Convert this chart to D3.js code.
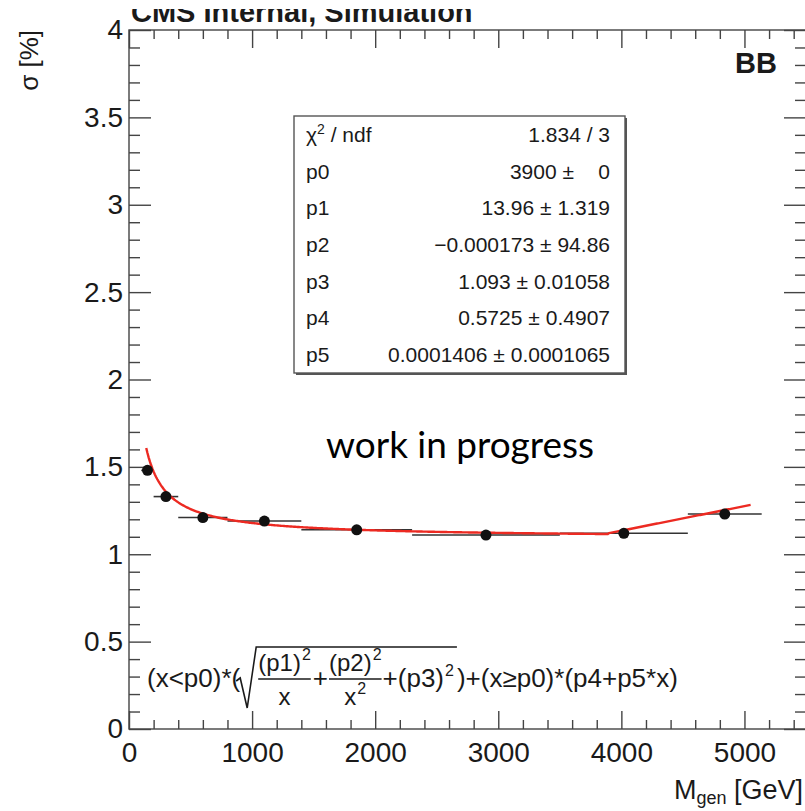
<!DOCTYPE html>
<html>
<head>
<meta charset="utf-8">
<script src="https://cdn.jsdelivr.net/npm/d3@7"></script>
<style>
  html, body { margin: 0; padding: 0; background: #fff; }
  svg { display: block; }
</style>
</head>
<body>
<svg id="chart" width="805" height="811"></svg>
<script>
// resolution per mass bin: bin centre, sigma and half bin width
const massGeV = [150, 300, 600, 1100, 1850, 2900, 4020, 4840];
const sigmaPct = [1.48, 1.33, 1.21, 1.19, 1.14, 1.11, 1.12, 1.23];
const massHalfWidth = [50, 100, 200, 300, 450, 600, 520, 300];

// fit result shown in the stats box
const paramNames = ["p0", "p1", "p2", "p3", "p4", "p5"];
const paramValues = [3900, 13.96, -0.000173, 1.093, 0.5725, 0.0001406];
const paramErrors = [0, 1.319, 94.86, 0.01058, 0.4907, 0.0001065];
const chi2 = 1.834;
const ndf = 3;
const fitRange = [140, 5050];

const xTicks = [0, 1000, 2000, 3000, 4000, 5000];
const yTicks = [0, 0.5, 1, 1.5, 2, 2.5, 3, 3.5, 4];

const FONT = "'Liberation Sans', Arial, Helvetica, sans-serif";
const INK = "#1a1a1a";
const AXIS = "#444";

const svg = d3.select("#chart").attr("font-family", FONT);

const x = d3.scaleLinear().domain([0, 5500]).range([129, 806]);
const y = d3.scaleLinear().domain([0, 4]).range([729, 30]);
const fmt = d3.format("~g");

const xMinor = d3.range(0, 5501, 200).filter((v) => v % 1000 !== 0);
const yMinor = d3.range(0, 4.001, 0.1).map((v) => +v.toFixed(1)).filter((v) => !yTicks.includes(v));

function styleAxis(g) {
  g.select(".domain").remove();
  g.selectAll(".tick line").attr("stroke", AXIS).attr("stroke-width", 1.4);
  g.selectAll(".tick text").attr("fill", INK);
  g.attr("font-family", FONT).attr("font-size", 28);
}

// ---------- frame + ticks (inward, all four sides) ----------
svg.append("rect")
  .attr("x", x(0)).attr("y", y(4))
  .attr("width", x(5500) - x(0)).attr("height", y(0) - y(4))
  .attr("fill", "none").attr("stroke", AXIS).attr("stroke-width", 1.4);

svg.append("g").attr("transform", `translate(0,${y(0)})`)
  .call(d3.axisBottom(x).tickValues(xTicks).tickFormat(fmt).tickSize(-18).tickPadding(13))
  .call(styleAxis);
svg.append("g").attr("transform", `translate(0,${y(0)})`)
  .call(d3.axisBottom(x).tickValues(xMinor).tickFormat("").tickSize(-9))
  .call(styleAxis);
svg.append("g").attr("transform", `translate(0,${y(4)})`)
  .call(d3.axisTop(x).tickValues(xTicks).tickFormat("").tickSize(-18))
  .call(styleAxis);
svg.append("g").attr("transform", `translate(0,${y(4)})`)
  .call(d3.axisTop(x).tickValues(xMinor).tickFormat("").tickSize(-9))
  .call(styleAxis);

svg.append("g").attr("transform", `translate(${x(0)},0)`)
  .call(d3.axisLeft(y).tickValues(yTicks).tickFormat(fmt).tickSize(-22).tickPadding(6))
  .call(styleAxis);
svg.append("g").attr("transform", `translate(${x(0)},0)`)
  .call(d3.axisLeft(y).tickValues(yMinor).tickFormat("").tickSize(-11))
  .call(styleAxis);
svg.append("g").attr("transform", `translate(${x(5500)},0)`)
  .call(d3.axisRight(y).tickValues(yTicks).tickFormat("").tickSize(-22))
  .call(styleAxis);
svg.append("g").attr("transform", `translate(${x(5500)},0)`)
  .call(d3.axisRight(y).tickValues(yMinor).tickFormat("").tickSize(-11))
  .call(styleAxis);

// ---------- titles ----------
svg.append("defs").append("clipPath").attr("id", "title-clip")
  .append("rect").attr("x", 0).attr("y", 9).attr("width", 805).attr("height", 40);
svg.append("text")
  .attr("clip-path", "url(#title-clip)")
  .attr("x", 131).attr("y", 22)
  .attr("font-size", 29).attr("font-weight", "bold").attr("fill", INK)
  .text("CMS Internal, Simulation");

svg.append("text")
  .attr("x", 777).attr("y", 73)
  .attr("text-anchor", "end")
  .attr("font-size", 29).attr("font-weight", "bold").attr("fill", INK)
  .text("BB");

svg.append("text")
  .attr("transform", "translate(38,30) rotate(-90)")
  .attr("text-anchor", "end")
  .attr("font-size", 26).attr("fill", INK)
  .text("σ [%]");

const xt = svg.append("text")
  .attr("x", 803).attr("y", 799)
  .attr("text-anchor", "end")
  .attr("font-size", 27).attr("fill", INK);
xt.append("tspan").text("M");
xt.append("tspan").attr("font-size", 18).attr("dy", 5).text("gen");
xt.append("tspan").attr("dy", -5).text(" [GeV]");

// ---------- data: horizontal bin errors, fit curve, markers ----------
const points = massGeV.map((m, i) => ({ m, s: sigmaPct[i], dm: massHalfWidth[i] }));

svg.append("g").selectAll("line")
  .data(points)
  .join("line")
  .attr("x1", (d) => x(d.m - d.dm))
  .attr("x2", (d) => x(d.m + d.dm))
  .attr("y1", (d) => y(d.s))
  .attr("y2", (d) => y(d.s))
  .attr("stroke", "#333").attr("stroke-width", 1.6);

function fitFn(m) {
  const [p0, p1, p2, p3, p4, p5] = paramValues;
  return m < p0
    ? Math.sqrt((p1 * p1) / m + (p2 * p2) / (m * m) + p3 * p3)
    : p4 + p5 * m;
}
const curveX = d3.range(fitRange[0], fitRange[1], 10).concat([fitRange[1]]);
svg.append("path")
  .datum(curveX)
  .attr("fill", "none")
  .attr("stroke", "#ec2a22")
  .attr("stroke-width", 2.4)
  .attr("d", d3.line().x((m) => x(m)).y((m) => y(fitFn(m))));

svg.append("g").selectAll("circle")
  .data(points)
  .join("circle")
  .attr("cx", (d) => x(d.m))
  .attr("cy", (d) => y(d.s))
  .attr("r", 5.5)
  .attr("fill", "#111");

// ---------- stats box ----------
const box = { x: 294, y: 116, w: 331, h: 257 };
svg.append("rect")
  .attr("x", box.x + 2).attr("y", box.y + 2).attr("width", box.w).attr("height", box.h)
  .attr("fill", "#555");
svg.append("rect")
  .attr("x", box.x).attr("y", box.y).attr("width", box.w).attr("height", box.h)
  .attr("fill", "#fff").attr("stroke", "#555").attr("stroke-width", 1.4);

const rowH = box.h / (paramNames.length + 1);
const labelX = box.x + 12;
const valueRight = box.x + box.w - 15;
const stats = svg.append("g").attr("font-size", 21).attr("fill", INK);

function rowY(i) { return box.y + rowH * (i + 0.5) + 7.5; }

const chiLabel = stats.append("text").attr("x", labelX).attr("y", rowY(0));
chiLabel.append("tspan").text("χ");
chiLabel.append("tspan").attr("font-size", 14).attr("dy", -8).text("2");
chiLabel.append("tspan").attr("dy", 8).text(" / ndf");
stats.append("text").attr("x", valueRight).attr("y", rowY(0)).attr("text-anchor", "end")
  .text(`${fmt(chi2)} / ${ndf}`);

paramNames.forEach((name, i) => {
  const yy = rowY(i + 1);
  stats.append("text").attr("x", labelX).attr("y", yy).text(name);
  const err = stats.append("text").attr("x", valueRight).attr("y", yy)
    .attr("text-anchor", "end").text(fmt(paramErrors[i]));
  const errW = Math.max(err.node().getComputedTextLength(), 30);
  stats.append("text").attr("x", valueRight - errW - 6).attr("y", yy)
    .attr("text-anchor", "end").text(`${fmt(paramValues[i])} ±`);
});

// ---------- fit function, written out ----------
const fx = svg.append("g").attr("fill", INK);
const baseY = 687;
const MAIN = 26, FRAC = 24, SUP = 16;
function word(str, xPos, yPos, size) {
  const t = fx.append("text").attr("x", xPos).attr("y", yPos)
    .attr("font-size", size || MAIN).text(str);
  return t.node().getComputedTextLength();
}
function withSup(base, sup, xPos, yPos, size) {
  const w = word(base, xPos, yPos, size);
  return w + 1 + word(sup, xPos + w + 1, yPos - 11, SUP);
}
function measure(str, size) {
  const probe = fx.append("text").attr("font-size", size).text(str);
  const w = probe.node().getComputedTextLength();
  probe.remove();
  return w;
}
function fraction(num, den, xPos) {
  const numW = measure(num[0], FRAC) + 1 + measure(num[1], SUP);
  const denW = measure(den[0], FRAC) + (den[1] ? 1 + measure(den[1], SUP) : 0);
  const w = Math.max(numW, denW);
  withSup(num[0], num[1], xPos + (w - numW) / 2, 671, FRAC);
  if (den[1]) withSup(den[0], den[1], xPos + (w - denW) / 2, 705, FRAC);
  else word(den[0], xPos + (w - denW) / 2, 705, FRAC);
  fx.append("line")
    .attr("x1", xPos).attr("x2", xPos + w)
    .attr("y1", 679).attr("y2", 679)
    .attr("stroke", INK).attr("stroke-width", 1.5);
  return w;
}

let cx = 147;
cx += word("(x<p0)*(", cx, baseY);
const r0 = cx + 1;
cx = r0 + 17;
cx += fraction(["(p1)", "2"], ["x"], cx) + 2;
cx += word("+", cx, baseY) + 1;
cx += fraction(["(p2)", "2"], ["x", "2"], cx) + 1;
cx += word("+", cx, baseY);
cx += withSup("(p3)", "2", cx, baseY);
const overlineEnd = cx + 3;
cx += 3;
word(")+(x≥p0)*(p4+p5*x)", cx, baseY);

fx.append("path")
  .attr("d", `M${r0 - 5},${681} L${r0 - 1},${678} L${r0 + 6},${708} L${r0 + 15},${647} L${overlineEnd},${647}`)
  .attr("fill", "none").attr("stroke", INK).attr("stroke-width", 1.6);

// ---------- overlay note ----------
const wip = svg.append("text")
  .attr("x", 326).attr("y", 458)
  .attr("font-family", "Lato, 'Open Sans', sans-serif")
  .attr("font-size", 36).attr("fill", "#000")
  .text("work in progress");
const wipW = wip.node().getComputedTextLength();
wip.attr("font-size", (36 * 268) / wipW);
</script>
</body>
</html>
